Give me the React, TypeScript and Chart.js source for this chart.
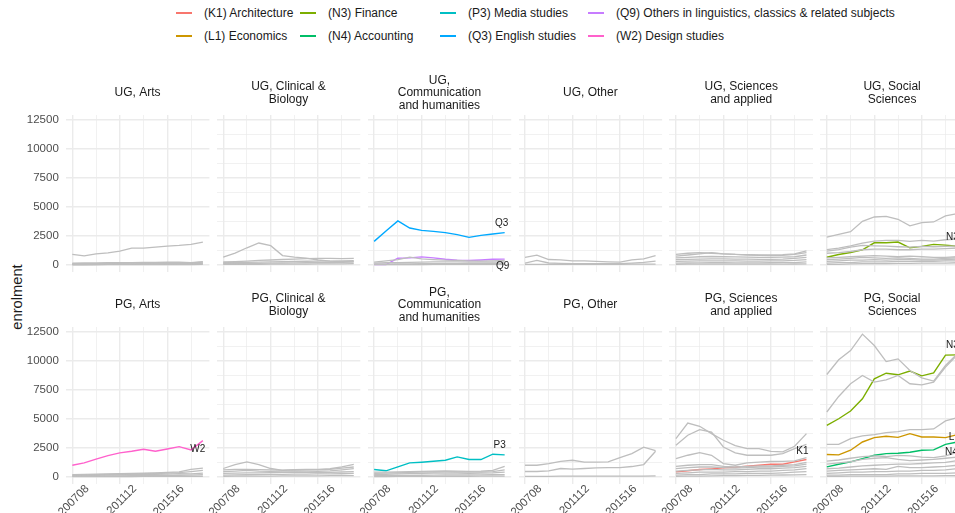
import React, { useEffect, useRef } from 'react';
import { Chart, registerables } from 'chart.js';

Chart.register(...registerables);

// ---- data -------------------------------------------------------------
const years = ['200708', '200809', '200910', '201011', '201112', '201213', '201314', '201415', '201516', '201617', '201718', '201819'];
const labelledYearIdx = [0, 4, 8];
const yTickValues = [0, 2500, 5000, 7500, 10000, 12500];

const subjectColours: Record<string, string> = {
  K1: '#F8766D', L1: '#CD9600', N3: '#7CAE00', N4: '#00BE67',
  P3: '#00BFC4', Q3: '#00A9FF', Q9: '#C77CFF', W2: '#FF61CC',
};
const legendEntries = [
  ['K1', '(K1) Architecture'], ['L1', '(L1) Economics'],
  ['N3', '(N3) Finance'], ['N4', '(N4) Accounting'],
  ['P3', '(P3) Media studies'], ['Q3', '(Q3) English studies'],
  ['Q9', '(Q9) Others in linguistics, classics & related subjects'], ['W2', '(W2) Design studies'],
];

// undergraduate
const ugArtsGrey = [
  [895, 780, 950, 1040, 1180, 1440, 1440, 1530, 1620, 1670, 1760, 1960],
  [150, 160, 170, 180, 190, 200, 210, 220, 230, 240, 200, 280],
  [100, 110, 110, 120, 130, 150, 160, 170, 180, 190, 170, 230],
  [60, 60, 70, 70, 80, 90, 100, 110, 120, 130, 120, 160],
  [30, 30, 40, 40, 50, 50, 60, 60, 70, 80, 90, 100],
  [10, 10, 10, 15, 15, 20, 20, 25, 25, 30, 30, 40],
];
const ugClinicalGrey = [
  [660, 1010, 1470, 1880, 1650, 800, 670, 580, 420, 320, 280, 300],
  [250, 280, 330, 380, 420, 460, 500, 540, 560, 560, 540, 560],
  [180, 200, 220, 240, 260, 280, 300, 310, 320, 330, 340, 360],
  [100, 110, 120, 130, 150, 160, 170, 180, 190, 200, 210, 230],
  [40, 40, 50, 50, 60, 60, 70, 70, 80, 80, 90, 100],
];
const ugCommGrey = [
  [230, 350, 450, 660, 520, 450, 400, 380, 350, 330, 350, 380],
  [150, 180, 200, 220, 240, 250, 260, 250, 240, 230, 240, 250],
  [60, 70, 80, 90, 100, 100, 110, 110, 110, 110, 120, 120],
  [20, 20, 30, 30, 30, 40, 40, 40, 40, 50, 50, 50],
];
const q3UG = [2020, 2910, 3780, 3170, 2970, 2880, 2770, 2600, 2370, 2540, 2660, 2770];
const q9UG = [30, 30, 570, 600, 690, 600, 480, 400, 380, 420, 480, 490];
const ugOtherGrey = [
  [635, 840, 460, 430, 350, 345, 300, 260, 230, 430, 520, 800],
  [150, 380, 160, 130, 110, 110, 100, 100, 100, 150, 220, 330],
  [40, 45, 45, 50, 50, 45, 45, 50, 50, 55, 55, 60],
];
const ugSciencesGrey = [
  [900, 1000, 1050, 1000, 950, 900, 880, 860, 850, 880, 950, 1200],
  [750, 850, 950, 1050, 950, 900, 850, 820, 800, 820, 900, 1050],
  [600, 650, 700, 720, 700, 680, 660, 650, 640, 660, 700, 850],
  [450, 480, 500, 520, 510, 500, 490, 480, 480, 500, 550, 650],
  [300, 320, 340, 350, 350, 340, 330, 330, 340, 350, 380, 450],
  [150, 160, 170, 180, 180, 170, 170, 170, 180, 190, 200, 250],
  [50, 55, 60, 60, 60, 60, 60, 60, 65, 70, 75, 90],
];
const ugSocialGrey = [
  [2390, 2620, 2860, 3750, 4120, 4180, 3920, 3350, 3630, 3690, 4210, 4400],
  [1320, 1440, 1640, 1870, 2050, 2100, 2100, 2020, 2100, 2050, 2160, 2220],
  [1180, 1320, 1520, 1670, 1640, 1610, 1560, 1530, 1590, 1560, 1590, 1640],
  [1000, 1050, 1150, 1300, 1350, 1350, 1300, 1300, 1350, 1350, 1400, 1450],
  [600, 650, 700, 750, 800, 750, 700, 750, 700, 650, 650, 700],
  [450, 500, 550, 650, 600, 550, 600, 550, 500, 500, 550, 600],
  [300, 350, 400, 400, 450, 400, 450, 450, 400, 400, 450, 500],
  [150, 200, 200, 250, 250, 250, 300, 300, 300, 300, 350, 350],
  [50, 50, 80, 100, 100, 100, 120, 120, 150, 150, 150, 180],
];
const n3UG = [660, 890, 1060, 1300, 1900, 1900, 1960, 1470, 1590, 1760, 1700, 1610];

// postgraduate
const pgArtsGrey = [
  [200, 220, 240, 260, 280, 300, 320, 350, 380, 430, 650, 750],
  [150, 170, 190, 210, 230, 250, 270, 290, 320, 360, 450, 550],
  [100, 120, 140, 160, 180, 200, 210, 220, 240, 280, 250, 330],
  [50, 60, 70, 80, 90, 100, 110, 120, 130, 140, 150, 180],
  [20, 20, 25, 25, 30, 30, 35, 35, 40, 40, 45, 50],
];
const w2PG = [1000, 1200, 1520, 1830, 2060, 2200, 2370, 2200, 2400, 2600, 2320, 3120];
const pgClinicalGrey = [
  [720, 1050, 1280, 1050, 720, 560, 620, 650, 650, 700, 850, 1080],
  [600, 650, 650, 620, 600, 580, 600, 620, 600, 650, 750, 850],
  [450, 500, 550, 500, 480, 500, 520, 500, 480, 520, 600, 700],
  [300, 320, 340, 350, 360, 380, 400, 380, 360, 380, 420, 450],
  [150, 170, 180, 200, 220, 220, 230, 240, 250, 260, 270, 300],
  [50, 60, 60, 70, 70, 80, 80, 90, 90, 100, 100, 110],
];
const pgCommGrey = [
  [400, 400, 420, 450, 480, 500, 520, 500, 480, 500, 550, 900],
  [300, 320, 350, 380, 400, 420, 430, 420, 400, 420, 450, 600],
  [200, 220, 250, 280, 300, 320, 330, 320, 300, 320, 340, 400],
  [100, 110, 120, 130, 140, 150, 160, 160, 160, 170, 180, 200],
  [30, 30, 40, 40, 40, 50, 50, 50, 50, 60, 60, 70],
];
const p3PG = [630, 520, 860, 1200, 1260, 1340, 1430, 1720, 1490, 1490, 1950, 1890];
const pgOtherGrey = [
  [1000, 1000, 1140, 1340, 1430, 1260, 1260, 1290, 1660, 2000, 2550, 2250],
  [460, 460, 520, 720, 660, 720, 770, 800, 800, 890, 1060, 2200],
  [50, 50, 50, 60, 60, 60, 60, 60, 70, 70, 70, 80],
];
const pgSciencesGrey = [
  [3290, 4630, 4350, 3720, 3150, 2690, 2430, 2430, 2200, 2150, 2630, 3720],
  [2720, 3580, 4060, 3860, 2570, 2060, 1860, 1860, 1860, 2000, 2430, 2800],
  [1570, 1860, 2090, 1860, 1140, 1000, 1200, 1260, 1320, 1340, 1370, 1660],
  [900, 1000, 1050, 1050, 900, 850, 900, 950, 950, 1000, 1050, 1250],
  [700, 800, 850, 850, 800, 750, 800, 850, 850, 900, 950, 1100],
  [500, 550, 600, 650, 600, 600, 650, 700, 700, 750, 800, 900],
  [300, 350, 400, 400, 400, 450, 450, 500, 500, 550, 600, 700],
  [150, 200, 200, 250, 250, 250, 300, 300, 300, 350, 400, 450],
  [50, 60, 70, 80, 100, 100, 120, 130, 150, 160, 170, 200],
];
const k1PG = [430, 520, 630, 690, 770, 830, 920, 1000, 1090, 1090, 1290, 1490];
const pgSocialGrey = [
  [8810, 10070, 10870, 12280, 11300, 9920, 10150, 9150, 8520, 8240, 9580, 10600],
  [5580, 6920, 8010, 8720, 8150, 8350, 8720, 8010, 7920, 8150, 9440, 10500],
  [2800, 2800, 3290, 3520, 3630, 3800, 3890, 4060, 4060, 4120, 4810, 5090],
  [1350, 1450, 1600, 1750, 1800, 1750, 1850, 1800, 1700, 1650, 1800, 2100],
  [1100, 1200, 1300, 1500, 1600, 1650, 1500, 1400, 1450, 1500, 1600, 1700],
  [700, 750, 850, 950, 1000, 1050, 1100, 1100, 1150, 1200, 1250, 1400],
  [500, 550, 600, 650, 700, 650, 900, 800, 800, 850, 900, 1000],
  [300, 350, 400, 400, 450, 450, 500, 500, 550, 550, 600, 700],
  [150, 150, 200, 200, 200, 200, 250, 250, 300, 300, 300, 350],
  [50, 50, 60, 60, 70, 70, 80, 80, 90, 90, 100, 110],
];
const n3PG = [4430, 5000, 5660, 6720, 8440, 8920, 8780, 9100, 8690, 8950, 10470, 10500];
const l1PG = [1920, 1890, 2290, 3000, 3380, 3490, 3400, 3720, 3430, 3430, 3380, 3630];
const n4PG = [860, 1090, 1290, 1570, 1860, 2000, 2030, 2120, 2290, 2320, 2800, 3000];

// ---- panel definitions ------------------------------------------------
type Highlight = { code: string; values: number[]; dx: number; dy: number };
type PanelDef = { title: string[]; grey: number[][]; highlights: Highlight[] };

const panelRows: PanelDef[][] = [
  [
    { title: ['UG, Arts'], grey: ugArtsGrey, highlights: [] },
    { title: ['UG, Clinical &', 'Biology'], grey: ugClinicalGrey, highlights: [] },
    {
      title: ['UG,', 'Communication', 'and humanities'], grey: ugCommGrey,
      highlights: [
        { code: 'Q9', values: q9UG, dx: -2, dy: 7 },
        { code: 'Q3', values: q3UG, dx: -3, dy: -9 },
      ],
    },
    { title: ['UG, Other'], grey: ugOtherGrey, highlights: [] },
    { title: ['UG, Sciences', 'and applied'], grey: ugSciencesGrey, highlights: [] },
    { title: ['UG, Social', 'Sciences'], grey: ugSocialGrey, highlights: [{ code: 'N3', values: n3UG, dx: -5, dy: -9 }] },
  ],
  [
    { title: ['PG, Arts'], grey: pgArtsGrey, highlights: [{ code: 'W2', values: w2PG, dx: -5, dy: 9 }] },
    { title: ['PG, Clinical &', 'Biology'], grey: pgClinicalGrey, highlights: [] },
    { title: ['PG,', 'Communication', 'and humanities'], grey: pgCommGrey, highlights: [{ code: 'P3', values: p3PG, dx: -5, dy: -10 }] },
    { title: ['PG, Other'], grey: pgOtherGrey, highlights: [] },
    { title: ['PG, Sciences', 'and applied'], grey: pgSciencesGrey, highlights: [{ code: 'K1', values: k1PG, dx: -4, dy: -8 }] },
    {
      title: ['PG, Social', 'Sciences'], grey: pgSocialGrey,
      highlights: [
        { code: 'N4', values: n4PG, dx: -6, dy: 10 },
        { code: 'L1', values: l1PG, dx: -3, dy: 3 },
        { code: 'N3', values: n3PG, dx: -5, dy: -10 },
      ],
    },
  ],
];

// shared y range: data range with 5% expansion on both sides
const allValues = panelRows.flat().flatMap((p) => [...p.grey.flat(), ...p.highlights.flatMap((h) => h.values)]);
const dataMax = Math.max(...allValues);
const Y_MIN = -0.05 * dataMax;
const Y_MAX = dataMax * 1.05;
const X_MIN = -0.05 * (years.length - 1);
const X_MAX = (years.length - 1) * 1.05;

// ---- layout -----------------------------------------------------------
const FONT = '"Liberation Sans", Arial, Helvetica, sans-serif';
const FIRST_PLOT_LEFT = 65.8;
const COL_STEP = 150.9;
const PLOT_W = 143.6;
const PLOT_H = 157;
const ROW_TOPS = [115, 327];
const STRIP_H = 48;
const STRIP_SHIFT = 2;
const TITLE_LINE = 12.6;
const GRID = '#EBEBEB';
const GREY_LINE = '#BEBEBE';

const endLabelPlugin = {
  id: 'endLabels',
  afterDatasetsDraw(chart: any) {
    const ctx = chart.ctx;
    chart.data.datasets.forEach((ds: any, i: number) => {
      if (!ds.endLabel) return;
      const pts = chart.getDatasetMeta(i).data;
      const last = pts[pts.length - 1];
      ctx.save();
      ctx.font = `10px ${FONT}`;
      ctx.fillStyle = '#1a1a1a';
      ctx.textAlign = 'center';
      ctx.textBaseline = 'middle';
      ctx.fillText(ds.endLabel.text, last.x + ds.endLabel.dx, last.y + ds.endLabel.dy);
      ctx.restore();
    });
  },
};

const toPoints = (values: number[]) => values.map((v, i) => ({ x: i, y: v }));

const clearPadding = (s: any) => {
  s.paddingLeft = 0;
  s.paddingRight = 0;
  s.paddingTop = 0;
  s.paddingBottom = 0;
};

function Panel({ def, row, col }: { def: PanelDef; row: number; col: number }) {
  const ref = useRef<HTMLCanvasElement | null>(null);
  const plotLeft = FIRST_PLOT_LEFT + COL_STEP * col;
  const canvasLeft = col === 0 ? 0 : Math.floor(plotLeft) - 30;
  const yAxisW = plotLeft - canvasLeft;
  const canvasW = Math.ceil(yAxisW + PLOT_W + 16);
  const rightPad = canvasW - yAxisW - PLOT_W;
  const xAxisH = row === 1 ? 40 : 0;
  const bottomPad = row === 0 ? 2 : 0;
  const canvasTop = ROW_TOPS[row] - STRIP_H;
  const canvasH = STRIP_H + PLOT_H + xAxisH + bottomPad;

  useEffect(() => {
    if (!ref.current) return;
    const n = def.title.length;
    const padBottom = STRIP_H / 2 - (n * TITLE_LINE) / 2 - STRIP_SHIFT;
    const padTop = STRIP_H - n * TITLE_LINE - padBottom;

    const datasets: any[] = [
      ...def.grey.map((vals) => ({
        data: toPoints(vals),
        borderColor: GREY_LINE,
        borderWidth: 1.3,
        pointRadius: 0,
      })),
      ...def.highlights.map((h) => ({
        data: toPoints(h.values),
        borderColor: subjectColours[h.code],
        borderWidth: 1.4,
        pointRadius: 0,
        endLabel: { text: h.code, dx: h.dx, dy: h.dy },
      })),
    ];

    const chart = new Chart(ref.current, {
      type: 'line',
      data: { datasets },
      plugins: [endLabelPlugin],
      options: {
        responsive: false,
        animation: false,
        devicePixelRatio: 1,
        layout: { autoPadding: false, padding: { left: 0, right: rightPad, top: 0, bottom: bottomPad } },
        elements: { line: { tension: 0 } },
        plugins: {
          legend: { display: false },
          tooltip: { enabled: false },
          title: {
            display: true,
            text: def.title,
            color: '#1a1a1a',
            fullSize: false,
            font: { family: FONT, size: 12, lineHeight: TITLE_LINE / 12, weight: 'normal' },
            padding: { top: padTop, bottom: padBottom },
          },
        },
        scales: {
          x: {
            type: 'linear',
            min: X_MIN,
            max: X_MAX,
            border: { display: false },
            grid: {
              drawTicks: false,
              color: GRID,
              lineWidth: (c: any) => (labelledYearIdx.includes(c.tick?.value) ? 1.4 : 0.7),
            },
            afterBuildTicks: (s: any) => {
              s.ticks = years.map((_, i) => i).filter((i) => i % 2 === 0).map((i) => ({ value: i }));
            },
            afterFit: (s: any) => {
              s.height = xAxisH;
              clearPadding(s);
            },
            ticks: {
              display: row === 1,
              autoSkip: false,
              minRotation: 45,
              maxRotation: 45,
              padding: -2,
              labelOffset: 15,
              color: '#4D4D4D',
              font: { family: FONT, size: 11.5 },
              callback: (v: any) => (labelledYearIdx.includes(v) ? years[v] : ''),
            },
          },
          y: {
            type: 'linear',
            min: Y_MIN,
            max: Y_MAX,
            border: { display: false },
            grid: {
              drawTicks: false,
              color: GRID,
              lineWidth: (c: any) => (c.tick && c.tick.value % 2500 === 0 ? 1.4 : 0.7),
            },
            afterBuildTicks: (s: any) => {
              const t: any[] = [];
              for (let v = 0; v <= yTickValues[yTickValues.length - 1]; v += 1250) t.push({ value: v });
              s.ticks = t;
            },
            afterFit: (s: any) => {
              s.width = yAxisW;
              clearPadding(s);
            },
            ticks: {
              display: col === 0,
              padding: 7,
              color: '#4D4D4D',
              font: { family: FONT, size: 11.5 },
              callback: (v: any) => (yTickValues.includes(v) ? String(v) : ''),
            },
          },
        },
      } as any,
    });
    return () => chart.destroy();
  }, []);

  return (
    <canvas
      ref={ref}
      width={canvasW}
      height={canvasH}
      style={{ position: 'absolute', left: canvasLeft, top: canvasTop, width: canvasW, height: canvasH }}
    />
  );
}

function Legend() {
  const colX = [176, 300, 440, 588];
  const rowY = [13, 36];
  return (
    <>
      {legendEntries.map(([code, label], i) => {
        const c = Math.floor(i / 2);
        const r = i % 2;
        return (
          <div
            key={code}
            style={{
              position: 'absolute',
              left: colX[c],
              top: rowY[r] - 8,
              height: 16,
              display: 'flex',
              alignItems: 'center',
              whiteSpace: 'nowrap',
              fontFamily: FONT,
              fontSize: 12,
              color: '#1a1a1a',
            }}
          >
            <div style={{ width: 16, height: 1.4, background: subjectColours[code], marginRight: 12 }} />
            <span>{label}</span>
          </div>
        );
      })}
    </>
  );
}

export default function App() {
  return (
    <div
      style={{
        position: 'fixed',
        left: 0,
        top: 0,
        width: 955,
        height: 513,
        overflow: 'hidden',
        background: '#ffffff',
        fontFamily: FONT,
      }}
    >
      <Legend />
      <div
        style={{
          position: 'absolute',
          left: 17,
          top: 297,
          transform: 'translate(-50%, -50%) rotate(-90deg)',
          fontSize: 14.7,
          color: '#1a1a1a',
          whiteSpace: 'nowrap',
        }}
      >
        enrolment
      </div>
      {panelRows.map((rowDefs, r) =>
        rowDefs.map((def, c) => <Panel key={`${r}-${c}`} def={def} row={r} col={c} />)
      )}
    </div>
  );
}
